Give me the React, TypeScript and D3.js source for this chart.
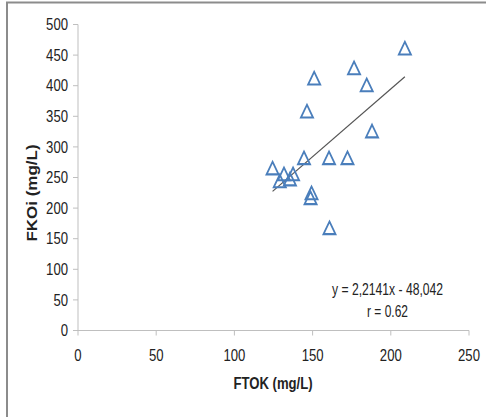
import React from "react";
import * as d3 from "d3";

const ftok: number[] = [124.4, 129, 131.7, 135.5, 137.5, 144.5, 160.5, 172.3, 149.3, 148.7, 160.8, 209, 176.5, 184.6, 151, 146.4, 188];
const fkoi: number[] = [262, 241, 252.5, 244, 252.5, 278.7, 278.7, 278.7, 221.5, 213.4, 164.4, 458, 425.6, 397.8, 409, 355, 322.5];
const xTicks: number[] = [0, 50, 100, 150, 200, 250];
const yTicks: number[] = [0, 50, 100, 150, 200, 250, 300, 350, 400, 450, 500];
const slope = 2.2141;
const intercept = -48.042;
const equationLabel = "y = 2,2141x - 48,042";
const rLabel = "r = 0.62";
const xTitle = "FTOK (mg/L)";
const yTitle = "FKOi (mg/L)";

const W = 486;
const H = 417;
const FONT = "'Liberation Sans', Arial, sans-serif";
const SX = 0.82;

export default function App() {
  const x = d3.scaleLinear().domain([0, 250]).range([78, 469]);
  const y = d3.scaleLinear().domain([0, 500]).range([330.5, 24.5]);
  const axisColor = "#bfbfbf";
  const textColor = "#222";
  const blue = "#4a7ebb";

  const xMin = d3.min(ftok) as number;
  const xMax = d3.max(ftok) as number;
  const line = d3
    .line<number>()
    .x((d) => x(d))
    .y((d) => y(slope * d + intercept));

  const tri = d3.symbol().type(d3.symbolTriangle).size(70);

  return (
    <svg
      width={W}
      height={H}
      style={{ position: "absolute", left: 0, top: 0, background: "#fff" }}
    >
      {/* frame */}
      <path d={`M7,${H + 2} V2.5 H${W + 2}`} fill="none" stroke="#8c8c8c" strokeWidth={2} />

      {/* axes */}
      <line x1={x(0)} x2={x(0)} y1={y(500)} y2={y(0)} stroke={axisColor} strokeWidth={1} />
      <line x1={x(0)} x2={x(250)} y1={y(0)} y2={y(0)} stroke={axisColor} strokeWidth={1} />
      {yTicks.map((t) => (
        <g key={"y" + t}>
          <line x1={x(0) - 5} x2={x(0)} y1={y(t)} y2={y(t)} stroke={axisColor} />
          <text
            transform={`translate(${x(0) - 10},${y(t)}) scale(${SX},1)`}
            dy="0.36em"
            textAnchor="end"
            fontFamily={FONT}
            fontSize={16}
            fill={textColor}
          >
            {t}
          </text>
        </g>
      ))}
      {xTicks.map((t) => (
        <g key={"x" + t}>
          <line x1={x(t)} x2={x(t)} y1={y(0)} y2={y(0) + 5} stroke={axisColor} />
          <text
            transform={`translate(${x(t)},355) scale(${SX},1)`}
            dy="0.36em"
            textAnchor="middle"
            fontFamily={FONT}
            fontSize={16}
            fill={textColor}
          >
            {t}
          </text>
        </g>
      ))}

      {/* titles */}
      <text
        transform={`translate(273,383) scale(${SX},1)`}
        dy="0.36em"
        textAnchor="middle"
        fontFamily={FONT}
        fontWeight="bold"
        fontSize={16}
        fill={textColor}
      >
        {xTitle}
      </text>
      <text
        transform={`translate(32,193) rotate(-90) scale(1,${SX})`}
        dy="0.36em"
        textAnchor="middle"
        fontFamily={FONT}
        fontWeight="bold"
        fontSize={17}
        fill={textColor}
      >
        {yTitle}
      </text>

      {/* trendline */}
      <path d={line([xMin, xMax]) || ""} fill="none" stroke="#555" strokeWidth={1.2} />

      {/* points */}
      {ftok.map((v, i) => (
        <path
          key={i}
          d={tri() || ""}
          transform={`translate(${x(v)},${y(fkoi[i])}) scale(0.95,1.15)`}
          fill="none"
          stroke={blue}
          strokeWidth={1.8}
        />
      ))}

      {/* equation */}
      <text
        x={332}
        y={295}
        textLength={111}
        lengthAdjust="spacingAndGlyphs"
        fontFamily={FONT}
        fontSize={16}
        fill={textColor}
      >
        {equationLabel}
      </text>
      <text
        x={367}
        y={317}
        textLength={41}
        lengthAdjust="spacingAndGlyphs"
        fontFamily={FONT}
        fontSize={16}
        fill={textColor}
      >
        {rLabel}
      </text>
    </svg>
  );
}
